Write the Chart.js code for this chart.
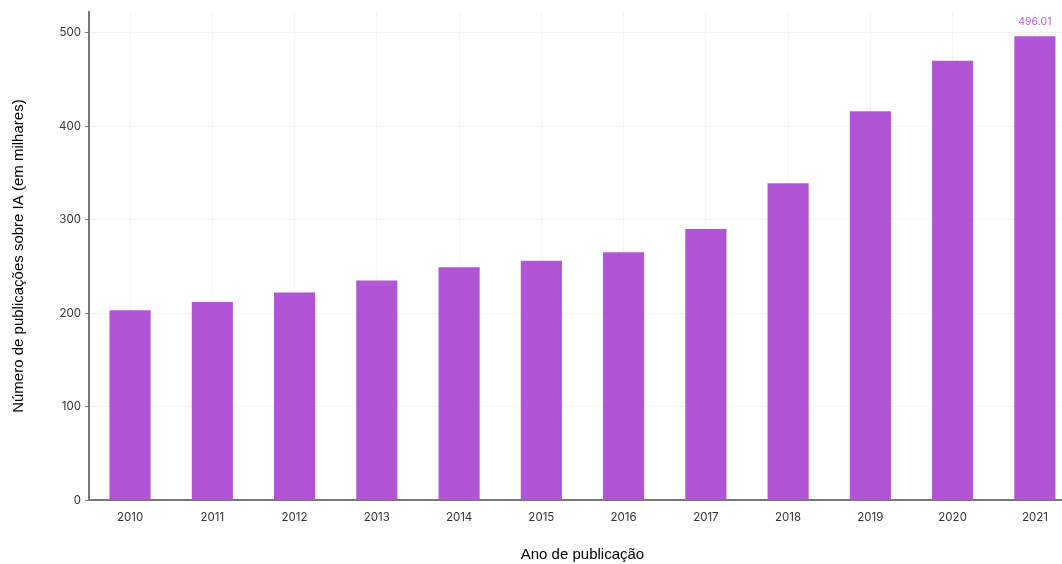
<!DOCTYPE html>
<html>
<head>
<meta charset="utf-8">
<script src="https://cdn.jsdelivr.net/npm/chart.js@4.4.1/dist/chart.umd.min.js"></script>
<style>
    html, body { margin: 0; padding: 0; background: #fff; overflow: hidden; }
    #wrap { width: 1076px; height: 564px; }
</style>
</head>
<body>
<div id="wrap"><canvas id="myChart"></canvas></div>
<script>
    const years = ['2010', '2011', '2012', '2013', '2014', '2015', '2016', '2017', '2018', '2019', '2020', '2021'];
    const publicacoes = [203, 212, 222, 235, 249, 256, 265, 290, 339, 416, 470, 496.01];
    const yTicks = [0, 100, 200, 300, 400, 500];

    // rotulo so na ultima barra
    const lastLabel = {
        id: 'lastLabel',
        afterDatasetsDraw(chart) {
            const meta = chart.getDatasetMeta(0);
            const i = publicacoes.length - 1;
            const bar = meta.data[i];
            const ctx = chart.ctx;
            ctx.save();
            ctx.font = '10.5px Inter, sans-serif';
            ctx.fillStyle = '#b35fd6';
            ctx.textAlign = 'center';
            ctx.textBaseline = 'bottom';
            ctx.fillText(publicacoes[i].toFixed(2), bar.x, bar.y - 9);
            ctx.restore();
        }
    };

    const ctx = document.getElementById('myChart').getContext('2d');
    const myChart = new Chart(ctx, {
        type: 'bar',
        data: {
            labels: years,
            datasets: [{
                data: publicacoes,
                backgroundColor: '#b254d6',
                categoryPercentage: 1,
                barPercentage: 0.5
            }]
        },
        options: {
            responsive: true,
            maintainAspectRatio: false,
            animation: false,
            layout: { padding: { top: 12, left: 6, right: 0, bottom: -4 } },
            plugins: { legend: { display: false }, tooltip: { enabled: false } },
            scales: {
                x: {
                    offset: true,
                    grid: { color: '#f3f3f3', drawTicks: false, offset: false },
                    border: { color: '#777', width: 2 },
                    ticks: { color: '#333', font: { family: 'Inter', size: 11.5 }, padding: 10 },
                    title: {
                        display: true,
                        text: 'Ano de publicação',
                        color: '#000',
                        font: { family: 'Liberation Sans', size: 15 },
                        padding: { top: 12 }
                    }
                },
                y: {
                    min: 0,
                    max: 522,
                    afterBuildTicks(axis) {
                        axis.ticks = yTicks.map(v => ({ value: v }));
                    },
                    grid: { color: '#f3f3f3', tickLength: 4, tickColor: '#777' },
                    border: { color: '#777', width: 2 },
                    ticks: { color: '#333', font: { family: 'Inter', size: 11.5 }, padding: 4 },
                    title: {
                        display: true,
                        text: 'Número de publicações sobre IA (em milhares)',
                        color: '#000',
                        font: { family: 'Liberation Sans', size: 15 },
                        padding: { bottom: 27 }
                    }
                }
            }
        },
        plugins: [lastLabel]
    });
</script>
</body>
</html>
